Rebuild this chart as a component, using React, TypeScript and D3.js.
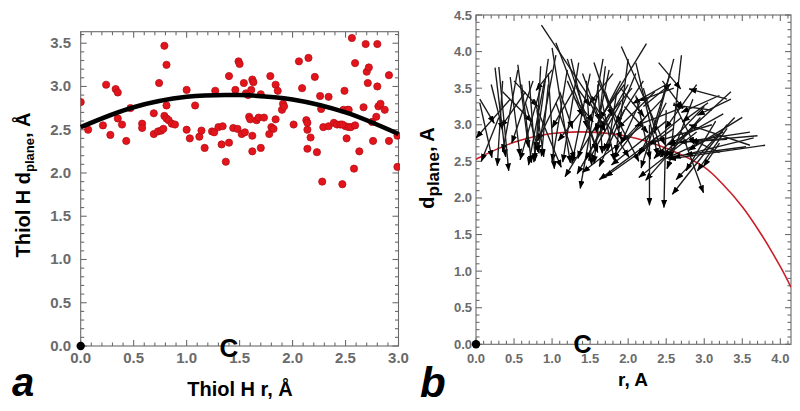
import React from 'react';
import * as d3 from 'd3';

// Panel a: thiol H positions (also arrow heads in panel b)
const dotR = [0.0,0.07,0.21,0.24,0.28,0.33,0.35,0.35,0.39,0.43,0.47,0.58,0.58,0.69,0.69,0.73,0.74,0.76,0.78,0.79,0.81,0.81,0.79,0.81,0.83,0.86,0.89,1.0,1.0,1.03,1.08,1.12,1.14,1.17,1.24,1.26,1.27,1.30,1.33,1.34,1.37,1.40,1.40,1.44,1.46,1.49,1.50,1.48,1.52,1.54,1.55,1.56,1.58,1.59,1.60,1.61,1.62,1.63,1.62,1.62,1.66,1.68,1.70,1.70,1.73,1.78,1.79,1.80,1.82,1.84,1.84,1.86,1.90,1.91,1.92,2.01,2.06,2.09,2.13,2.14,2.14,2.15,2.17,2.21,2.23,2.26,2.27,2.28,2.29,2.34,2.34,2.39,2.42,2.45,2.47,2.48,2.49,2.50,2.51,2.52,2.53,2.55,2.58,2.56,2.59,2.59,2.63,2.67,2.69,2.70,2.71,2.72,2.75,2.76,2.79,2.80,2.80,2.81,2.83,2.87,2.91,2.91,2.99,2.99,2.14,2.53,2.47];
const dotD = [2.82,2.50,2.55,3.02,2.44,2.97,2.93,2.63,2.56,2.37,2.75,2.57,2.52,2.69,2.45,2.48,3.04,2.49,2.51,3.47,3.25,2.78,2.66,2.63,2.61,2.57,2.56,2.96,2.50,2.40,2.78,2.42,2.49,2.29,2.48,2.47,2.95,2.53,2.33,2.54,2.13,3.12,2.35,2.52,2.96,3.29,3.26,2.51,2.45,3.04,2.47,2.92,2.90,2.65,2.62,2.96,3.08,3.05,2.43,2.25,2.61,2.64,2.91,2.29,2.64,2.45,3.12,2.53,2.51,3.02,2.62,2.95,2.73,2.80,2.77,2.56,3.29,2.98,2.61,2.50,2.28,3.33,2.41,3.11,2.24,2.89,2.74,1.90,2.53,2.88,2.54,2.58,2.56,2.56,1.87,2.73,2.95,2.54,2.40,2.73,2.53,2.53,2.05,3.56,3.27,2.55,2.25,2.76,3.49,3.17,3.04,3.22,2.59,2.37,2.65,3.49,3.00,2.77,2.80,2.73,2.37,3.13,2.43,2.07,2.58,2.73,2.56];

// Panel b: arrow tails (arrow heads are the points above)
const tailR = [0.45,0.30,0.05,0.05,0.35,0.65,0.20,0.55,0.25,0.30,0.75,0.45,0.85,0.55,0.90,0.60,0.35,0.95,0.70,1.00,0.50,1.10,0.85,1.05,0.65,0.95,0.80,1.30,1.20,0.95,1.40,0.75,1.35,2.24,1.00,1.50,1.10,1.05,2.00,1.60,1.67,1.20,2.20,1.75,1.25,1.80,1.30,1.90,1.45,1.30,1.70,1.90,1.75,1.05,1.20,2.05,1.95,1.40,1.95,2.40,1.60,2.10,1.50,2.60,1.85,2.50,1.55,2.30,1.65,2.20,2.00,2.35,2.15,1.70,2.45,0.86,2.50,2.75,2.70,1.60,2.90,2.60,2.55,1.90,2.95,1.95,3.10,2.28,2.10,2.60,3.00,2.10,3.35,2.20,2.50,1.91,2.90,3.25,2.85,3.60,3.80,2.70,3.30,2.20,3.10,3.65,3.40,3.30,2.40,3.20,3.05,2.45,3.55,3.15,3.50,3.30,3.60,3.70,3.20,2.60,3.30,3.35,3.20,2.70,2.50,3.25,2.90];
const tailD = [3.35,3.10,3.30,3.35,3.60,3.45,3.55,3.75,3.78,3.79,3.60,3.65,3.50,3.82,3.60,3.55,3.45,3.90,3.60,3.75,3.60,3.40,3.80,3.95,3.30,3.55,3.20,3.50,3.75,3.70,3.20,3.35,3.85,4.11,4.05,3.70,3.45,3.30,3.55,3.40,3.90,3.60,3.00,3.15,3.90,3.70,3.55,3.30,3.60,3.35,3.80,3.60,3.75,4.12,3.90,3.50,3.55,3.70,3.20,2.85,3.55,3.70,3.30,2.95,3.45,3.05,3.85,3.20,3.35,3.60,3.90,3.45,3.30,3.45,3.35,4.36,3.55,3.25,3.10,3.60,2.90,3.50,3.70,3.50,3.10,3.25,3.00,3.00,3.40,3.90,3.25,3.85,3.45,3.50,3.20,4.07,3.55,2.90,3.35,2.90,2.72,3.95,3.00,3.25,3.20,2.82,3.10,2.80,3.85,3.40,3.30,3.60,2.70,3.05,3.10,3.35,2.72,2.85,2.62,3.30,2.95,3.35,2.75,2.90,3.30,3.15,3.00];

// Fit curves
const fitAR = [0, 0.5, 1.0, 1.5, 2.0, 2.5, 3.0];
const fitAD = [2.53, 2.76, 2.88, 2.9, 2.85, 2.7, 2.45];
const fitBR = [0, 0.5, 1.0, 1.5, 2.0, 2.5, 3.0, 3.25, 3.5, 3.75, 4.0, 4.14];
const fitBD = [2.53, 2.76, 2.88, 2.9, 2.84, 2.68, 2.42, 2.18, 1.88, 1.5, 1.06, 0.78];

// Tick labels
const aXTicks = [0, 0.5, 1.0, 1.5, 2.0, 2.5, 3.0];
const aYTicks = [0, 0.5, 1.0, 1.5, 2.0, 2.5, 3.0, 3.5];
const bXTicks = [0, 0.5, 1.0, 1.5, 2.0, 2.5, 3.0, 3.5, 4.0];
const bYTicks = [0, 0.5, 1.0, 1.5, 2.0, 2.5, 3.0, 3.5, 4.0, 4.5];

const FONT = '"Liberation Sans", Arial, Helvetica, sans-serif';
const fmt = d3.format('.1f');

type Lin = d3.ScaleLinear<number, number>;

function Frame({ x, y, xMax, yMax }: { x: Lin; y: Lin; xMax: number; yMax: number }) {
  const [x0, x1] = x.range();
  const [y0, y1] = y.range();
  const minorX = d3.range(0, xMax + 1e-6, 0.1);
  const minorY = d3.range(0, yMax + 1e-6, 0.1);
  const isMajor = (v: number) => Math.abs(v * 2 - Math.round(v * 2)) < 1e-6;
  const c = '#6b6b6b';
  return (
    <g stroke={c} strokeWidth={1.1} fill="none">
      <rect x={x0} y={y1} width={x1 - x0} height={y0 - y1} />
      {minorX.map((v, i) => {
        const L = isMajor(v) ? 6 : 3.5;
        const px = x(v);
        return (
          <g key={'x' + i}>
            <line x1={px} x2={px} y1={y0} y2={y0 - L} />
            <line x1={px} x2={px} y1={y1} y2={y1 + L} />
          </g>
        );
      })}
      {minorY.map((v, i) => {
        const L = isMajor(v) ? 6 : 3.5;
        const py = y(v);
        return (
          <g key={'y' + i}>
            <line x1={x0} x2={x0 + L} y1={py} y2={py} />
            <line x1={x1} x2={x1 - L} y1={py} y2={py} />
          </g>
        );
      })}
    </g>
  );
}

export default function App() {
  // Panel a scales
  const xa = d3.scaleLinear().domain([0, 3]).range([80.7, 398.5]);
  const ya = d3.scaleLinear().domain([0, 3.633]).range([346, 31.7]);
  // Panel b scales
  const xb = d3.scaleLinear().domain([0, 4.14]).range([476, 791]);
  const yb = d3.scaleLinear().domain([0, 4.5]).range([344.3, 15]);

  const lineA = d3.line<number>().x((_, i) => xa(fitAR[i])).y((d) => ya(d)).curve(d3.curveCatmullRom);
  const lineB = d3.line<number>().x((_, i) => xb(fitBR[i])).y((d) => yb(d)).curve(d3.curveCatmullRom);

  return (
    <svg width={800} height={411} style={{ position: 'absolute', left: 0, top: 0, background: '#fff' }} fontFamily={FONT}>
      <defs>
        <marker id="ah" viewBox="0 0 8 6" refX={7.5} refY={3} markerWidth={8} markerHeight={6} markerUnits="userSpaceOnUse" orient="auto">
          <path d="M0,0 L8,3 L0,6 Z" fill="#000" />
        </marker>
        <clipPath id="clipA">
          <rect x={80.7} y={31.7} width={319.3} height={314.3} />
        </clipPath>
        <clipPath id="clipB">
          <rect x={476} y={15} width={315} height={329.3} />
        </clipPath>
      </defs>
      <rect x={0} y={0} width={800} height={411} fill="#fff" />

      {/* ---------------- Panel a ---------------- */}
      <Frame x={xa} y={ya} xMax={3} yMax={3.6} />
      <g clipPath="url(#clipA)">
        {dotR.map((r, i) => (
          <circle key={i} cx={xa(r)} cy={ya(dotD[i])} r={3.6} fill="#e3141b" stroke="#b51016" strokeWidth={0.8} />
        ))}
      </g>
      <path d={lineA(fitAD) || ''} fill="none" stroke="#000" strokeWidth={4.5} />
      <circle cx={xa(0)} cy={ya(0)} r={4.2} fill="#000" />
      {aXTicks.map((t) => (
        <text key={t} x={xa(t)} y={363} textAnchor="middle" fontSize={15} fontWeight="bold" fill="#6a6a6a">{fmt(t)}</text>
      ))}
      <text x={xa(1.4)} y={357} textAnchor="middle" fontSize={26} fontWeight="bold" fill="#000">C</text>
      {aYTicks.map((t) => (
        <text key={t} x={71} y={ya(t) + 5} textAnchor="end" fontSize={15} fontWeight="bold" fill="#6a6a6a">{fmt(t)}</text>
      ))}
      <text x={240} y={396} textAnchor="middle" fontSize={20} fontWeight="bold" fill="#000">Thiol H r, Å</text>
      <text transform="translate(30,185) rotate(-90)" textAnchor="middle" fontSize={20} fontWeight="bold" fill="#000">
        Thiol H d<tspan fontSize={13} dy={4}>plane</tspan><tspan dy={-4}>, Å</tspan>
      </text>
      <text x={12} y={396} fontSize={40} fontWeight="bold" fontStyle="italic" fill="#000">a</text>

      {/* ---------------- Panel b ---------------- */}
      <Frame x={xb} y={yb} xMax={4.14} yMax={4.5} />
      <g clipPath="url(#clipB)">
        <path d={lineB(fitBD) || ''} fill="none" stroke="#c8202a" strokeWidth={1.6} />
        {dotR.map((r, i) => (
          <line key={i} x1={xb(tailR[i])} y1={yb(tailD[i])} x2={xb(r)} y2={yb(dotD[i])} stroke="#1a1a1a" strokeWidth={1.35} markerEnd="url(#ah)" />
        ))}
      </g>
      <circle cx={xb(0)} cy={yb(0)} r={4.2} fill="#000" />
      {bXTicks.map((t) => (
        <text key={t} x={xb(t)} y={363} textAnchor="middle" fontSize={13} fontWeight="bold" fill="#6a6a6a">{fmt(t)}</text>
      ))}
      <text x={xb(1.4)} y={353} textAnchor="middle" fontSize={25} fontWeight="bold" fill="#000">C</text>
      {bYTicks.map((t) => (
        <text key={t} x={472} y={yb(t) + 4.5} textAnchor="end" fontSize={13} fontWeight="bold" fill="#6a6a6a">{fmt(t)}</text>
      ))}
      <text x={633} y={386} textAnchor="middle" fontSize={19} fontWeight="bold" fill="#000">r, A</text>
      <text transform="translate(434,168) rotate(-90)" textAnchor="middle" fontSize={20} fontWeight="bold" fill="#000">
        d<tspan fontSize={17} dy={5}>plane</tspan><tspan dy={-5}>, A</tspan>
      </text>
      <text x={420} y={397} fontSize={42} fontWeight="bold" fontStyle="italic" fill="#000">b</text>
    </svg>
  );
}
